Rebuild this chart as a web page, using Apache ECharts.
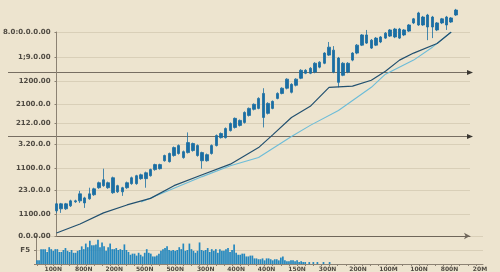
<!DOCTYPE html>
<html><head><meta charset="utf-8">
<script src="https://cdn.jsdelivr.net/npm/echarts@6/dist/echarts.min.js"></script>
<style>html,body{margin:0;padding:0;background:#ede4cf;}#c{width:500px;height:272px;}</style>
</head><body><div id="c"></div>
<script>
// ---- data ----
const yTickLabels = ["0.0.0.00", "1100.00", "23.0.0.0", "1100.0.0", "3.20.0.0", "212.0.00", "2100.0.0", "1200.00", "1;9.0.00", "8.0:0.0.0.00"];
const yTickValues = [0, 98, 200, 301, 403, 497, 581, 683, 789, 900];
const xTickLabels = ["100N", "800N", "200N", "500N", "500N", "300N", "400N", "400N", "150N", "300N", "200N", "100M", "100N", "800N", "20M"];
const volLabel = "F5";
// [open, close, low, high]
const candles = [
  [111,142,102,146],[142,120,102,146],[120,142,115,146],[133,155,128,160],[151,155,146,160],
  [155,186,146,199],[168,146,124,173],[164,186,160,213],[182,208,177,213],[213,235,208,240],
  [222,248,217,297],[235,213,208,240],[257,191,186,262],[195,222,190,226],[213,195,177,217],
  [213,235,208,240],[231,257,226,262],[231,266,226,270],[253,270,248,275],[279,253,213,284],
  [266,293,262,297],[293,315,288,319],[315,297,293,319],[332,355,328,359],[328,364,324,368],
  [355,390,350,395],[399,364,359,404],[372,346,341,377],[368,412,364,457],[377,408,372,412],
  [399,355,350,404],[368,332,297,372],[332,359,328,364],[364,399,359,404],[399,443,395,448],
  [434,452,430,457],[434,474,430,479],[465,496,461,501],[479,519,474,523],[510,488,483,514],
  [501,545,496,550],[532,563,527,567],[559,581,554,585],[563,607,559,612],[629,523,479,652],
  [541,585,536,590],[563,594,559,598],[607,629,603,634],[629,652,625,656],[652,692,647,696],
  [669,634,629,674],[665,692,660,696],[696,731,692,736],[718,731,714,736],[718,740,714,745],
  [723,762,718,767],[745,767,740,771],[762,807,758,811],[798,833,794,856],[820,723,718,838],
  [785,678,656,790],[709,762,705,767],[762,723,718,767],[776,807,771,811],[807,842,802,847],
  [842,887,838,891],[887,851,847,909],[829,864,825,869],[842,873,838,878],[856,878,851,882],
  [873,895,869,900],[882,909,878,913],[913,878,873,918],[873,913,869,918],[887,909,882,913],
  [904,931,900,935],[940,958,935,962],[931,984,927,989],[966,931,927,971],[975,922,864,980],
  [922,966,873,971],[940,909,904,944],[940,958,935,962],[931,966,909,971],[944,962,940,966],
  [975,997,971,1002]
];
const slotCount = 89;
const maDark = [[0,13],[5,53],[10,102],[15,137],[20,166],[25,222],[31,270],[37,317],[43,390],[46,446],
  [50,523],[54,572],[58,656],[63,661],[67,687],[70,727],[73,776],[76,807],[81,849],[84,900]];
const maLight = [[18,150],[31,262],[37,310],[43,346],[50,439],[54,488],[60,554],[67,656],[70,714],[76,776],[80,833],[84,900]];
const volumes = [13,13,53,53,53,43,60,53,47,53,53,43,43,50,57,47,43,50,40,40,47,50,63,53,73,60,83,67,67,70,
  87,60,77,63,47,60,73,53,53,57,50,53,50,70,50,43,33,37,37,30,40,33,27,40,53,40,37,27,27,30,
  37,47,53,57,63,50,47,50,47,50,60,53,73,47,50,73,53,47,40,47,77,50,47,50,57,43,53,47,53,40,
  53,47,47,53,57,43,50,70,40,33,33,37,37,27,27,30,30,20,20,17,17,20,13,20,20,17,13,17,17,13,
  23,27,13,10,10,13,13,10,13,7,10,7,7,0,7,0,7,0,7,0,0,7,0,0,7];
const volSlots = 220;
const refLevels = [723, 439];

// ---- derived ----
const mainCats = Array.from({length: slotCount}, (_, i) => String(i));
const volCats = Array.from({length: volSlots}, (_, i) => {
  const k = (i - 8) / 15;
  return (i >= 8 && Number.isInteger(k) && k < xTickLabels.length) ? xTickLabels[k] : '';
});

const axisCol = '#8c8273', gridCol = '#d9cfb8', textCol = '#4f4a42';
const chart = echarts.init(document.getElementById('c'), null, {renderer: 'canvas'});
chart.setOption({
  backgroundColor: '#ede4cf',
  animation: false,
  grid: [
    {left: 36, right: 30, top: 32, bottom: 36},
    {left: 36, right: 17, top: 236, bottom: 6}
  ],
  xAxis: [
    {type: 'category', gridIndex: 0, data: mainCats, boundaryGap: false,
     axisLine: {show: true, lineStyle: {color: '#6f665a', width: 1}, symbol: ['none', 'arrow'], symbolSize: [5, 6]},
     axisTick: {show: false}, axisLabel: {show: false}, splitLine: {show: false}},
    {type: 'category', gridIndex: 1, data: volCats, boundaryGap: true,
     axisLine: {show: true, lineStyle: {color: axisCol, width: 1}},
     axisTick: {show: true, alignWithLabel: true, length: 2, interval: (i) => i % 4 === 0, lineStyle: {color: axisCol}},
     axisLabel: {show: true, interval: 0, fontSize: 6, color: textCol, fontFamily: 'DejaVu Sans', fontWeight: 'bold', margin: 2},
     splitLine: {show: false}}
  ],
  yAxis: [
    {type: 'value', gridIndex: 0, min: 0, max: 900,
     axisLine: {show: true, lineStyle: {color: axisCol}},
     axisTick: {show: true, length: 2, customValues: yTickValues, lineStyle: {color: axisCol}},
     axisLabel: {customValues: yTickValues, fontSize: 7, color: textCol, fontFamily: 'DejaVu Sans', fontWeight: 'bold', margin: 6,
       formatter: (v) => { const i = yTickValues.indexOf(v); return i >= 0 ? yTickLabels[i] : ''; }},
     splitLine: {show: true, lineStyle: {color: gridCol, width: 1}}},
    {type: 'value', gridIndex: 1, min: 0, max: 100, interval: 50,
     axisLine: {show: true, lineStyle: {color: axisCol}},
     axisTick: {show: true, length: 2, lineStyle: {color: axisCol}},
     axisLabel: {fontSize: 7, color: textCol, fontFamily: 'DejaVu Sans', fontWeight: 'bold', margin: 6,
       formatter: (v) => v === 50 ? volLabel : ''},
     splitLine: {show: true, lineStyle: {color: gridCol, width: 1}}}
  ],
  series: [
    {type: 'candlestick', xAxisIndex: 0, yAxisIndex: 0, data: candles, barWidth: 3, clip: false,
     itemStyle: {color: '#1b6ea3', color0: '#1b6ea3', borderColor: '#1b6ea3', borderColor0: '#1b6ea3', borderWidth: 0.8}},
    {type: 'line', xAxisIndex: 0, yAxisIndex: 0, data: maLight, symbol: 'none',
     lineStyle: {color: '#6cbcd8', width: 1.1}},
    {type: 'line', xAxisIndex: 0, yAxisIndex: 0, data: maDark, symbol: 'none',
     lineStyle: {color: '#22506f', width: 1.2}},
    {type: 'bar', xAxisIndex: 1, yAxisIndex: 1, data: volumes, barWidth: 1.7,
     itemStyle: {color: '#2387bf'}}
  ]
});

// decorative reference lines with arrows, positioned through the value axis
const els = [];
refLevels.forEach((v) => {
  const y = Math.round(chart.convertToPixel({yAxisIndex: 0}, v)) + 0.5;
  els.push({type: 'line', silent: true, shape: {x1: 8, y1: y, x2: 469, y2: y}, style: {stroke: '#776e62', lineWidth: 1}});
  els.push({type: 'polygon', silent: true, shape: {points: [[467, y - 2.5], [473, y], [467, y + 2.5]]}, style: {fill: '#3a3731'}});
});
chart.setOption({graphic: els});
</script>
</body></html>
